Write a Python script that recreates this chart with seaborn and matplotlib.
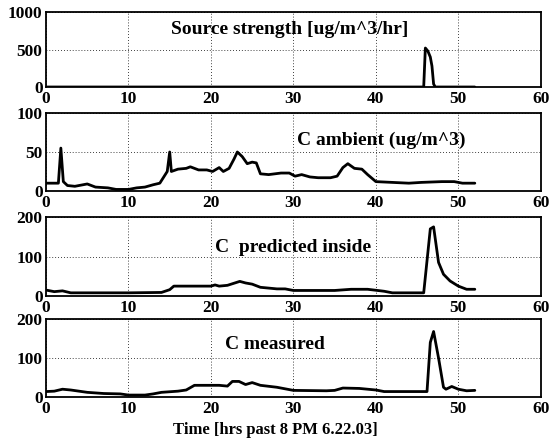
import matplotlib
matplotlib.use("Agg")
import matplotlib.pyplot as plt
import seaborn as sns
import pandas as pd

sns.set_theme(style="white")
plt.rcParams['font.family'] = ['Liberation Serif', 'DejaVu Serif']
plt.rcParams['font.weight'] = 'bold'

# ---- data (hours past 8 PM 6.22.03) ----
src_t = [0, 10, 20, 30, 40, 45.8, 46.0, 46.3, 46.6, 46.8, 47.0, 47.2, 50, 52.0]
src_v = [0, 0, 0, 0, 0, 0, 520, 480, 400, 280, 40, 0, 0, 0]

amb_t = [0, 1.5, 1.8, 2.1, 2.6, 3.5, 5.0, 6.0, 7.5, 8.5, 10, 11, 12, 13, 13.8, 14.7,
         15.0, 15.2, 16, 17, 17.5, 18.5, 19.5, 20.2, 21, 21.5, 22.2, 22.8, 23.2, 23.8,
         24.4, 25.0, 25.5, 26, 27, 28.5, 29.5, 30.2, 31, 32, 33, 34.5, 35.3, 36,
         36.6, 37.4, 38.3, 39, 40, 42, 44, 45.5, 48, 49.5, 50.5, 52]
amb_v = [10, 10, 55, 12, 7, 6, 9, 5, 4, 2, 2, 4, 5, 8, 10, 25,
         50, 25, 28, 29, 31, 27, 27, 25, 30, 25, 29, 41, 50, 44,
         35, 37, 36, 22, 21, 23, 23, 19, 21, 18, 17, 17, 19, 30,
         35, 29, 28, 21, 12, 11, 10, 11, 12, 12, 10, 10]

pred_t = [0, 1, 2, 3, 6, 10, 14, 15, 15.5, 20, 20.5, 21, 22, 23.5, 24.2, 25, 26,
          28, 29, 30, 35, 37, 39, 41, 42, 45.8, 46.6, 47.0, 47.6, 48.2, 49, 50, 51, 52]
pred_v = [15, 11, 13, 8, 8, 8, 9, 16, 25, 25, 28, 25, 27, 37, 33, 30, 22,
          18, 18, 14, 14, 17, 17, 12, 8, 8, 170, 175, 85, 55, 38, 25, 17, 17]

meas_t = [0, 1, 2, 3, 5, 7, 9, 10, 12, 13, 14, 16, 17, 18, 20, 21, 22, 22.6,
          23.4, 24.2, 25, 26, 28, 30, 34, 35, 36, 38, 40, 41, 44, 46.2, 46.6,
          47.0, 47.6, 48.2, 48.5, 49.2, 50, 51, 52]
meas_v = [14, 15, 20, 18, 12, 9, 8, 5, 5, 8, 12, 15, 18, 30, 30, 30, 28, 40,
          40, 32, 37, 30, 25, 17, 16, 17, 23, 22, 18, 14, 14, 14, 140,
          168, 100, 25, 20, 27, 20, 16, 17]

panels = [
    (src_t, src_v, 1000, [0, 500, 1000], "Source strength [ug/m^3/hr]", 29.5, 765),
    (amb_t, amb_v, 100, [0, 50, 100], "C ambient (ug/m^3)", 40.7, 65),
    (pred_t, pred_v, 200, [0, 100, 200], "C  predicted inside", 29.9, 122),
    (meas_t, meas_v, 200, [0, 100, 200], "C measured", 27.8, 134),
]
boxes = [(0.0835, 0.8058, 0.898, 0.1674),
         (0.0835, 0.5737, 0.898, 0.1741),
         (0.0835, 0.3393, 0.898, 0.1763),
         (0.0835, 0.1138, 0.898, 0.1741)]

fig = plt.figure(figsize=(5.51, 4.48), dpi=100)
for (t, v, ymax, yt, title, tx, ty), box in zip(panels, boxes):
    ax = fig.add_axes(box)
    df = pd.DataFrame({"t": t, "v": v})
    sns.lineplot(data=df, x="t", y="v", ax=ax, color="black", linewidth=2.0,
                 estimator=None, sort=False)
    ax.set_xlim(0, 60)
    ax.set_ylim(0, ymax)
    ax.set_xticks([0, 10, 20, 30, 40, 50, 60])
    ax.set_yticks(yt)
    ax.set_xlabel("")
    ax.set_ylabel("")
    ax.grid(True, color="black", linestyle=(0, (1, 2.5)), linewidth=0.6)
    for s in ax.spines.values():
        s.set_color("black")
        s.set_linewidth(1.3)
    ax.tick_params(axis="both", direction="in", length=3, width=0.8, color="black",
                   labelsize=12.5, labelcolor="black")
    ax.tick_params(axis="x", pad=3)
    ax.tick_params(axis="y", pad=2.5)
    for lab in ax.get_xticklabels() + ax.get_yticklabels():
        lab.set_fontweight("bold")
    ax.text(tx, ty, title, ha="center", va="center", fontsize=14,
            fontweight="bold", color="black")

fig.text(0.5, 0.04, "Time [hrs past 8 PM 6.22.03]", ha="center", va="center",
         fontsize=12, fontweight="bold", color="black")
fig.savefig("out.png", dpi=100)
